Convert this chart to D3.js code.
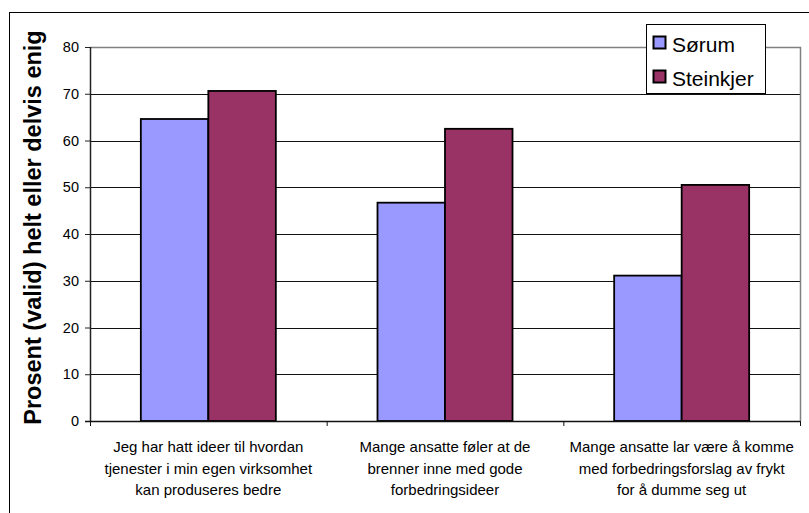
<!DOCTYPE html>
<html>
<head>
<meta charset="utf-8">
<script src="https://cdn.jsdelivr.net/npm/d3@7"></script>
<style>
  body { margin: 0; background: #fff; }
  svg { display: block; font-family: Arial, "Liberation Sans", sans-serif; }
</style>
</head>
<body>
<script>
// data
const categories = [
  ["Jeg har hatt ideer til hvordan", "tjenester i min egen virksomhet", "kan produseres bedre"],
  ["Mange ansatte føler at de", "brenner inne med gode", "forbedringsideer"],
  ["Mange ansatte lar være å komme", "med forbedringsforslag av frykt", "for å dumme seg ut"]
];
const seriesNames = ["Sørum", "Steinkjer"];
const sorum = [64.6, 46.7, 31.1];
const steinkjer = [70.6, 62.5, 50.5];
const yTicks = [0, 10, 20, 30, 40, 50, 60, 70, 80];
const colors = ["#9999ff", "#993366"];

const width = 809, height = 513;
const plot = {left: 90, right: 800, top: 47, bottom: 421};

const svg = d3.select("body").append("svg")
    .attr("width", width)
    .attr("height", height);

// outer chart border (runs off the right and bottom of the picture)
svg.append("rect")
    .attr("x", 9.5).attr("y", 12.5)
    .attr("width", 820).attr("height", 520)
    .attr("fill", "none")
    .attr("stroke", "#000");

const x = d3.scaleBand()
    .domain(d3.range(categories.length))
    .range([plot.left, plot.right]);

const xInner = d3.scaleBand()
    .domain(seriesNames)
    .range([0, x.bandwidth()])
    .paddingOuter(0.753);

const y = d3.scaleLinear()
    .domain([0, 80])
    .range([plot.bottom, plot.top]);

// gridlines
svg.append("g")
    .selectAll("line")
    .data(yTicks.filter(d => d > 0 && d < 80))
    .join("line")
    .attr("x1", plot.left).attr("x2", plot.right)
    .attr("y1", d => Math.round(y(d)) + 0.5)
    .attr("y2", d => Math.round(y(d)) + 0.5)
    .attr("stroke", "#111");

// plot area frame: top and right in grey
svg.append("path")
    .attr("d", `M${plot.left},${plot.top + 0.5}H${plot.right + 0.5}V${plot.bottom}`)
    .attr("fill", "none")
    .attr("stroke", "#808080")
    .attr("stroke-width", 1.5);

// bars
const rows = seriesNames.map((name, s) => ({name, values: s === 0 ? sorum : steinkjer, color: colors[s]}));

svg.append("g")
    .selectAll("g")
    .data(rows)
    .join("g")
    .attr("fill", d => d.color)
    .selectAll("rect")
    .data(d => d.values.map((v, i) => ({name: d.name, v, i})))
    .join("rect")
    .attr("x", d => x(d.i) + xInner(d.name))
    .attr("y", d => y(d.v))
    .attr("width", xInner.bandwidth())
    .attr("height", d => y(0) - y(d.v))
    .attr("stroke", "#000")
    .attr("stroke-width", 1.8);

// y axis
const yAxis = svg.append("g")
    .attr("transform", `translate(${plot.left},0)`)
    .call(d3.axisLeft(y).tickValues(yTicks).tickSize(5).tickPadding(6))
    .call(g => g.select(".domain").remove());

yAxis.selectAll("line").attr("stroke", "#222");
yAxis.selectAll("text")
    .attr("font-size", 14.5)
    .attr("font-family", "Arial, 'Liberation Sans', sans-serif")
    .attr("fill", "#000");

svg.append("line")
    .attr("x1", plot.left + 0.5).attr("x2", plot.left + 0.5)
    .attr("y1", plot.top).attr("y2", plot.bottom)
    .attr("stroke", "#222")
    .attr("stroke-width", 1.5);

// x axis line and tick marks at the category boundaries
svg.append("line")
    .attr("x1", plot.left - 5).attr("x2", plot.right)
    .attr("y1", plot.bottom + 0.5).attr("y2", plot.bottom + 0.5)
    .attr("stroke", "#111")
    .attr("stroke-width", 1.5);

svg.append("g")
    .selectAll("line")
    .data(d3.range(categories.length + 1))
    .join("line")
    .attr("x1", i => (i < categories.length ? x(i) : plot.right) + 0.5)
    .attr("x2", i => (i < categories.length ? x(i) : plot.right) + 0.5)
    .attr("y1", plot.bottom)
    .attr("y2", plot.bottom + 5)
    .attr("stroke", "#111");

// category labels, three lines each
svg.append("g")
    .selectAll("text")
    .data(categories)
    .join("text")
    .attr("text-anchor", "middle")
    .attr("font-size", 15)
    .attr("fill", "#000")
    .each(function(lines, i) {
        d3.select(this).selectAll("tspan")
            .data(lines)
            .join("tspan")
            .attr("x", x(i) + x.bandwidth() / 2)
            .attr("y", (d, j) => 452 + j * 21.5)
            .text(d => d);
    });

// y axis title
svg.append("text")
    .attr("transform", `translate(41,${(28 + 427) / 2}) rotate(-90)`)
    .attr("text-anchor", "middle")
    .attr("font-size", 23.5)
    .attr("font-weight", "bold")
    .attr("fill", "#000")
    .text("Prosent (valid) helt eller delvis enig");

// legend
const legend = svg.append("g")
    .attr("transform", "translate(646,24)");

legend.append("rect")
    .attr("x", 0.5).attr("y", 0.5)
    .attr("width", 119).attr("height", 69)
    .attr("fill", "#fff")
    .attr("stroke", "#000");

const item = legend.selectAll(".legend-item")
    .data(rows)
    .join("g")
    .attr("class", "legend-item")
    .attr("transform", (d, i) => `translate(0,${i * 34})`);

item.append("rect")
    .attr("x", 7.5).attr("y", 12.5)
    .attr("width", 12).attr("height", 12)
    .attr("fill", d => d.color)
    .attr("stroke", "#000")
    .attr("stroke-width", 2);

item.append("text")
    .attr("x", 26)
    .attr("y", 28)
    .attr("font-size", 21)
    .attr("fill", "#000")
    .text(d => d.name);
</script>
</body>
</html>
